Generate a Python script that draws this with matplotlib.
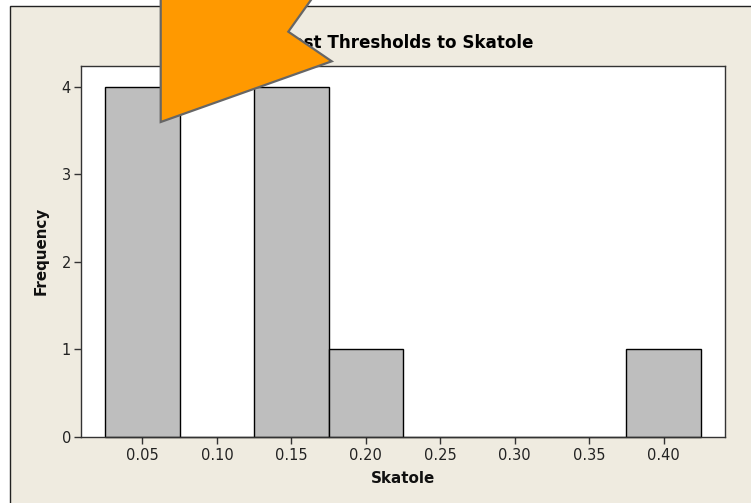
import matplotlib
matplotlib.use("Agg")
import matplotlib.pyplot as plt
from matplotlib.patches import Polygon, Rectangle

bin_centers = [0.05, 0.10, 0.15, 0.20, 0.25, 0.30, 0.35, 0.40]
frequency = [4, 0, 4, 1, 0, 0, 0, 1]
x_ticks = [0.05, 0.10, 0.15, 0.20, 0.25, 0.30, 0.35, 0.40]
y_ticks = [0, 1, 2, 3, 4]
title = "Test Thresholds to Skatole"
x_label = "Skatole"
y_label = "Frequency"

W, H = 751, 503
plt.rcParams["font.family"] = ["DejaVu Sans"]
fig = plt.figure(figsize=(W / 100, H / 100), dpi=100, facecolor="white")

bg = fig.add_axes([0, 0, 1, 1], zorder=0)
bg.set_xlim(0, W); bg.set_ylim(H, 0); bg.axis("off")
bg.add_patch(Rectangle((10.3, 6.3), 800, 600, facecolor="#EFEBE0", edgecolor="#222222", lw=1.0))

L, R, T, B = 80.7, 725.3, 66.0, 436.7
ax = fig.add_axes([L / W, 1 - B / H, (R - L) / W, (B - T) / H], zorder=1, facecolor="white")
ax.bar(bin_centers, frequency, width=0.05, color="#BEBEBE", edgecolor="black", linewidth=1.0, zorder=2, clip_on=False)
ax.set_xlim(0.0085, 0.4414)
ax.set_ylim(0, 4.24)
ax.set_xticks(x_ticks, [f"{v:.2f}" for v in x_ticks])
ax.set_yticks(y_ticks)
ax.tick_params(length=5, width=1, color="#333333", labelsize=10.5, labelcolor="#222222", pad=2)
ax.tick_params(axis="x", pad=3)
for s in ax.spines.values():
    s.set_color("#333333"); s.set_linewidth(1.0)
ax.set_xlabel(x_label, fontsize=10.9, fontweight="bold", color="#111111", labelpad=6)
ax.set_ylabel(y_label, fontsize=10.9, fontweight="bold", color="#111111", labelpad=9)
ax.set_title(title, fontsize=12.1, fontweight="bold", color="black", pad=13,
             x=(533 - L) / (R - L), ha="right")

fg = fig.add_axes([0, 0, 1, 1], zorder=5)
fg.set_xlim(0, W); fg.set_ylim(H, 0); fg.axis("off"); fg.patch.set_alpha(0)
fg.add_patch(Polygon([(160.7, -5), (160.7, 122), (331.7, 61.3), (288.3, 31.7), (314.5, -5)], closed=True,
                     facecolor="#FF9900", edgecolor="#666666", lw=1.6, joinstyle="miter"))
fig.savefig("out.png", dpi=100, facecolor="white")
